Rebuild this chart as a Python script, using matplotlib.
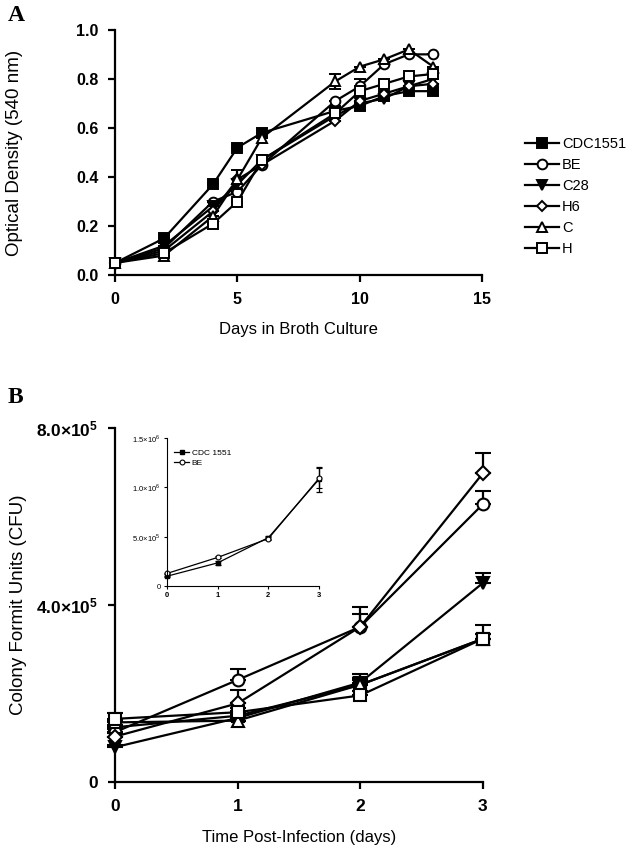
import numpy as np
import matplotlib
matplotlib.use("Agg")
import matplotlib.pyplot as plt
from matplotlib.lines import Line2D

plt.rcParams["font.family"] = ["Liberation Sans", "DejaVu Sans"]
plt.rcParams["mathtext.fontset"] = "custom"
plt.rcParams["mathtext.rm"] = "Liberation Sans"
plt.rcParams["mathtext.bf"] = "Liberation Sans:bold"

# ------------------------------------------------------------
# Panel A data: optical density in broth culture
# ------------------------------------------------------------
days = [0, 2, 4, 5, 6, 9, 10, 11, 12, 13]

od_cdc = [0.05, 0.15, 0.37, 0.52, 0.58, 0.67, 0.69, 0.73, 0.75, 0.75]
od_be = [0.05, 0.11, 0.30, 0.34, 0.45, 0.71, 0.77, 0.86, 0.90, 0.90]
od_c28 = [0.05, 0.12, 0.28, 0.37, 0.47, 0.65, 0.70, 0.72, 0.77, 0.80]
od_h6 = [0.05, 0.10, 0.26, 0.39, 0.45, 0.63, 0.71, 0.74, 0.77, 0.78]
od_c = [0.05, 0.08, 0.24, 0.39, 0.56, 0.79, 0.85, 0.88, 0.92, 0.85]
od_h = [0.05, 0.09, 0.21, 0.30, 0.47, 0.66, 0.75, 0.78, 0.81, 0.82]

err_cdc = [0.0, 0.0, 0.0, 0.0, 0.0, 0.0, 0.0, 0.0, 0.0, 0.0]
err_be = [0.0, 0.0, 0.0, 0.0, 0.0, 0.0, 0.03, 0.0, 0.0, 0.0]
err_c28 = [0.0, 0.0, 0.0, 0.0, 0.0, 0.0, 0.0, 0.0, 0.0, 0.0]
err_h6 = [0.0, 0.0, 0.0, 0.04, 0.0, 0.0, 0.0, 0.0, 0.0, 0.0]
err_c = [0.0, 0.0, 0.0, 0.0, 0.0, 0.03, 0.0, 0.0, 0.0, 0.0]
err_h = [0.0, 0.0, 0.0, 0.0, 0.0, 0.0, 0.0, 0.0, 0.0, 0.0]

# ------------------------------------------------------------
# Panel B data: CFU after infection (x 1e5)
# ------------------------------------------------------------
t_days = [0, 1, 2, 3]

cfu_cdc = [1.24, 1.50, 2.20, 3.24]
cfu_be = [1.13, 2.31, 3.51, 6.28]
cfu_c28 = [0.79, 1.45, 2.25, 4.50]
cfu_h6 = [1.03, 1.78, 3.51, 6.98]
cfu_c = [1.35, 1.39, 2.20, 3.24]
cfu_h = [1.43, 1.58, 1.96, 3.24]

cfu_err_cdc = [0.05, 0.10, 0.15, 0.10]
cfu_err_be = [0.08, 0.25, 0.30, 0.30]
cfu_err_c28 = [0.05, 0.08, 0.20, 0.22]
cfu_err_h6 = [0.08, 0.30, 0.44, 0.45]
cfu_err_c = [0.05, 0.08, 0.10, 0.10]
cfu_err_h = [0.14, 0.10, 0.10, 0.30]

# inset (x 1e5)
inset_cdc = [1.00, 2.35, 4.90, 10.80]
inset_be = [1.28, 2.90, 4.80, 10.90]
inset_err_cdc = [0.05, 0.20, 0.15, 1.25]
inset_err_be = [0.05, 0.10, 0.15, 1.00]

labels = ["CDC1551", "BE", "C28", "H6", "C", "H"]
markers = ["s", "o", "v", "D", "^", "s"]
filled = [True, False, True, False, False, False]
ms_a = [6.5, 7, 7, 5.5, 7, 6.5]
ms_b = [8, 8.5, 8.5, 7, 8.5, 8]

od_series = [od_cdc, od_be, od_c28, od_h6, od_c, od_h]
od_errs = [err_cdc, err_be, err_c28, err_h6, err_c, err_h]
cfu_series = [cfu_cdc, cfu_be, cfu_c28, cfu_h6, cfu_c, cfu_h]
cfu_errs = [cfu_err_cdc, cfu_err_be, cfu_err_c28, cfu_err_h6, cfu_err_c, cfu_err_h]

LW = 1.6
LABEL_X = -0.25   # y-label position in axes fraction


def style_axis(ax, lw=LW, ticklen=5, labelsize=11, pad=7, bold=True):
    for side in ["top", "right"]:
        ax.spines[side].set_visible(False)
    for side in ["left", "bottom"]:
        ax.spines[side].set_linewidth(lw)
    ax.tick_params(direction="out", length=ticklen, width=lw, pad=pad,
                   labelsize=labelsize, colors="black")
    if bold:
        for t in ax.get_xticklabels() + ax.get_yticklabels():
            t.set_fontweight("bold")


fig = plt.figure(figsize=(6.32, 8.52), dpi=100)

# ------------------------------------------------------------
# Panel A
# ------------------------------------------------------------
ax_a = fig.add_axes([0.182, 0.677, 0.581, 0.288])

for i in range(len(labels)):
    fc = "black" if filled[i] else "white"
    ax_a.errorbar(days, od_series[i], yerr=od_errs[i], color="black",
                  lw=LW, marker=markers[i], ms=ms_a[i], mfc=fc, mec="black",
                  mew=1.4, capsize=4, capthick=LW, elinewidth=LW,
                  clip_on=False, zorder=3 + i)

ax_a.set_xlim(0, 15)
ax_a.set_ylim(0, 1.0)
ax_a.set_xticks([0, 5, 10, 15])
ax_a.set_yticks([0.0, 0.2, 0.4, 0.6, 0.8, 1.0])
ax_a.set_yticklabels(["0.0", "0.2", "0.4", "0.6", "0.8", "1.0"])
style_axis(ax_a, labelsize=11.5)
ax_a.set_xlabel("Days in Broth Culture", fontsize=12)
ax_a.set_ylabel("Optical Density (540 nm)", fontsize=13.5)
ax_a.xaxis.set_label_coords(0.5, -0.19)
ax_a.yaxis.set_label_coords(LABEL_X, 0.5)

handles = []
for i in range(len(labels)):
    fc = "black" if filled[i] else "white"
    handles.append(Line2D([], [], color="black", lw=LW, marker=markers[i],
                          ms=ms_a[i], mfc=fc, mec="black", mew=1.4))
fig.legend(handles, labels, loc="upper left", bbox_to_anchor=(0.81, 0.855),
           frameon=False, fontsize=10.5, handlelength=2.3, handletextpad=0.25,
           labelspacing=0.48)

fig.text(0.012, 0.982, "A", fontsize=17, fontweight="bold",
         family=["Liberation Serif"], va="center")

# ------------------------------------------------------------
# Panel B
# ------------------------------------------------------------
ax_b = fig.add_axes([0.182, 0.082, 0.582, 0.4155])

for i in range(len(labels)):
    fc = "black" if filled[i] else "white"
    err = cfu_errs[i]
    ax_b.errorbar(t_days, cfu_series[i], yerr=[np.zeros(len(err)), err],
                  color="black", lw=LW, marker=markers[i], ms=ms_b[i], mfc=fc,
                  mec="black", mew=1.5, capsize=6, capthick=2.2,
                  elinewidth=LW, clip_on=False, zorder=3 + i)

ax_b.set_xlim(0, 3)
ax_b.set_ylim(0, 8)
ax_b.set_xticks([0, 1, 2, 3])
ax_b.set_yticks([0, 4, 8])
ax_b.set_yticklabels(["0", r"$\mathbf{4.0{\times}10^{5}}$",
                      r"$\mathbf{8.0{\times}10^{5}}$"])
style_axis(ax_b, labelsize=12.5)
ax_b.set_xlabel("Time Post-Infection (days)", fontsize=12)
ax_b.set_ylabel("Colony Formit Units (CFU)", fontsize=13.5)
ax_b.xaxis.set_label_coords(0.5, -0.136)
ax_b.yaxis.set_label_coords(-0.24, 0.5)

fig.text(0.012, 0.534, "B", fontsize=17, fontweight="bold",
         family=["Liberation Serif"], va="center")

# ------------------------------------------------------------
# Inset
# ------------------------------------------------------------
ax_in = fig.add_axes([0.264, 0.312, 0.241, 0.1745])

ax_in.errorbar(t_days, inset_cdc, yerr=inset_err_cdc, color="black", lw=0.9,
               marker="s", ms=3, mfc="black", mec="black", capsize=2.5,
               capthick=0.9, elinewidth=0.9, clip_on=False)
ax_in.errorbar(t_days, inset_be, yerr=inset_err_be, color="black", lw=0.9,
               marker="o", ms=3.5, mfc="white", mec="black", mew=0.8,
               capsize=2.5, capthick=0.9, elinewidth=0.9, clip_on=False)

ax_in.set_xlim(0, 3)
ax_in.set_ylim(0, 15)
ax_in.set_xticks([0, 1, 2, 3])
ax_in.set_yticks([0, 5, 10, 15])
ax_in.set_yticklabels(["0", r"$5.0{\times}10^{5}$", r"$1.0{\times}10^{6}$",
                       r"$1.5{\times}10^{6}$"])
style_axis(ax_in, lw=0.8, ticklen=2.5, labelsize=5.5, pad=2, bold=False)
for t in ax_in.get_xticklabels():
    t.set_fontweight("bold")

inset_handles = [
    Line2D([], [], color="black", lw=0.9, marker="s", ms=3, mfc="black"),
    Line2D([], [], color="black", lw=0.9, marker="o", ms=3.5, mfc="white",
           mew=0.8),
]
ax_in.legend(inset_handles, ["CDC 1551", "BE"], loc="upper left",
             bbox_to_anchor=(0.0, 0.97), frameon=False, fontsize=6,
             handlelength=1.8, handletextpad=0.3, labelspacing=0.2)

fig.savefig("out.png", dpi=100)
